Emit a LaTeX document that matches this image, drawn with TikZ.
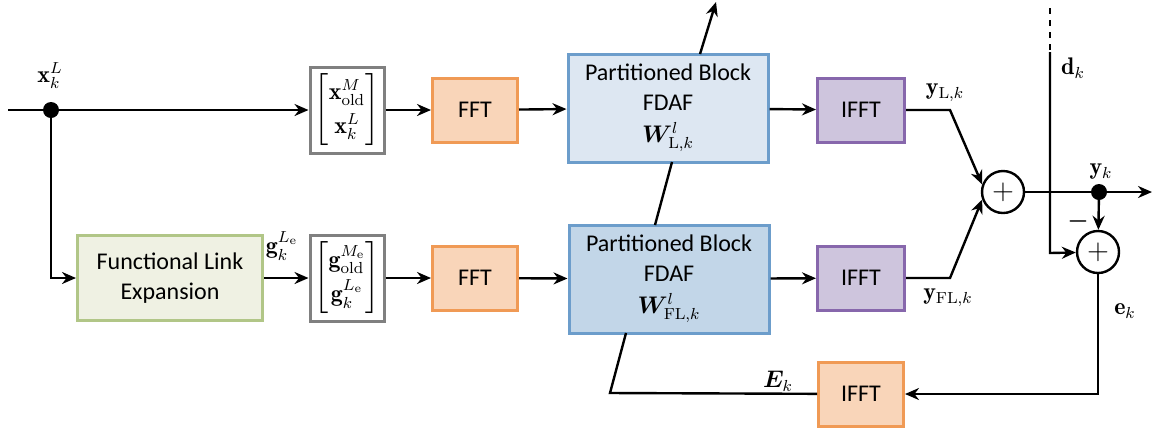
\documentclass[tikz,border=0pt]{standalone}
\usepackage{amsmath,amssymb}
\usepackage{bm}
\usepackage{fontspec}
\newfontfamily\blockfont{Carlito}
\usetikzlibrary{arrows.meta, positioning, calc}
\definecolor{fftfill}{HTML}{F9D5B9}
\definecolor{fftdraw}{HTML}{F09A55}
\definecolor{ifftfill}{HTML}{CEC5DD}
\definecolor{ifftdraw}{HTML}{8767AC}
\definecolor{pbatop}{HTML}{DDE7F2}
\definecolor{pbabot}{HTML}{C2D6E8}
\definecolor{pbadraw}{HTML}{6C9DCB}
\definecolor{flefill}{HTML}{EFF1E3}
\definecolor{fledraw}{HTML}{B1C687}

\begin{document}
\begin{tikzpicture}[x=0.5pt,y=-0.5pt,line width=1.2pt,
  >={Stealth[length=7pt,width=6pt]},
  blk/.style={draw, line width=1.5pt, align=center, inner sep=1pt,
    font=\blockfont\fontsize{12}{15}\selectfont},
  fftbox/.style={blk, fill=fftfill, draw=fftdraw, minimum width=42.5pt, minimum height=32pt},
  ifftbox/.style={blk, fill=ifftfill, draw=ifftdraw, minimum width=43.5pt, minimum height=32pt},
  pbabox/.style={blk, draw=pbadraw, minimum width=100pt, minimum height=54pt},
  vecbox/.style={blk, draw=gray, fill=white, minimum width=37pt, minimum height=43pt, inner sep=0pt},
  sumnode/.style={circle, draw, fill=white, minimum size=21pt, inner sep=0pt, font=\Large},
  lbl/.style={font=\large}]
\useasboundingbox (0,0) rectangle (1154,430);

\coordinate (in) at (8,110);
\coordinate (split) at (51,110);
\node[blk, fill=flefill, draw=fledraw, minimum width=92.5pt, minimum height=42.5pt] (fle) at (170,278) {Functional Link\\Expansion};
\node[vecbox] (xvec) at (347,110) {$\begin{bmatrix}\mathbf{x}^{M}_{\mathrm{old}}\\[2pt] \mathbf{x}^{L}_{k}\end{bmatrix}$};
\node[vecbox] (gvec) at (347,278) {$\begin{bmatrix}\mathbf{g}^{M_\mathrm{e}}_{\mathrm{old}}\\[2pt] \mathbf{g}^{L_\mathrm{e}}_{k}\end{bmatrix}$};
\node[fftbox] (fft1) at (475,110) {FFT};
\node[fftbox] (fft2) at (475,278) {FFT};
\node[pbabox, fill=pbatop] (pbl) at (668,108) {Partitioned Block\\FDAF\\[1pt]$\bm{W}^{l}_{\mathrm{L},k}$};
\node[pbabox, fill=pbabot] (pbfl) at (669,279) {Partitioned Block\\FDAF\\[1pt]$\bm{W}^{l}_{\mathrm{FL},k}$};
\node[ifftbox] (ifft1) at (861,110) {IFFT};
\node[ifftbox] (ifft2) at (861,278) {IFFT};
\node[fftbox] (ifft3) at (861,394) {IFFT};
\node[sumnode] (sum1) at (1003,192) {$+$};
\node[sumnode] (sum2) at (1098,252) {$+$};

\coordinate (yl) at (950,110);
\coordinate (yfl) at (950,278);
\coordinate (yout) at (1099,192);
\coordinate (out) at (1152,192);
\coordinate (dtop) at (1050,8);
\coordinate (dmid) at (1050,52);
\coordinate (dbot) at (1050,253);
\coordinate (ecorner) at (1098,394);
\coordinate (ecorner2) at (610,393);
\coordinate (upend) at (716,2);

\draw[->] (in) -- (xvec);
\fill (split) circle (4pt);
\draw[->] (split) |- (fle);
\draw[->] (fle) -- (gvec);
\draw[->] (xvec) -- (fft1);
\draw[->] (gvec) -- (fft2);
\draw[->] (fft1) -- (pbl);
\draw[->] (fft2) -- (pbfl);
\draw[->] (pbl) -- (ifft1);
\draw[->] (pbfl) -- (ifft2);
\draw[->] (ifft1.east) -- (yl) -- (sum1.160);
\draw[->] (ifft2.east) -- (yfl) -- (sum1.200);
\draw[->] (sum1) -- (out);
\fill (yout) circle (4pt);
\draw[->] (yout) -- (sum2);
\draw[dashed] (dtop) -- (dmid);
\draw[->] (dmid) -- (dbot) -- (sum2);
\draw[->] (sum2) -- (ecorner) -- (ifft3);
\draw (ifft3) -- (ecorner2) -- (626,333);
\draw (655,225) -- (672,162);
\draw[->] (700,54) -- (upend);

\node[lbl] (xlbl) at (50,76) {$\mathbf{x}^{L}_{k}$};
\node[lbl] (glbl) at (282,246) {$\mathbf{g}^{L_\mathrm{e}}_{k}$};
\node[lbl] (yllbl) at (945,93) {$\mathbf{y}_{\mathrm{L},k}$};
\node[lbl] (yfllbl) at (948,298) {$\mathbf{y}_{\mathrm{FL},k}$};
\node[lbl] (yklbl) at (1101,172) {$\mathbf{y}_{k}$};
\node[lbl] (dlbl) at (1073,68) {$\mathbf{d}_{k}$};
\node[lbl] (elbl) at (1125,311) {$\mathbf{e}_{k}$};
\node[lbl] (Elbl) at (778,381) {$\bm{E}_{k}$};
\node[lbl] (minus) at (1078,221) {$\bm{-}$};
\end{tikzpicture}
\end{document}
